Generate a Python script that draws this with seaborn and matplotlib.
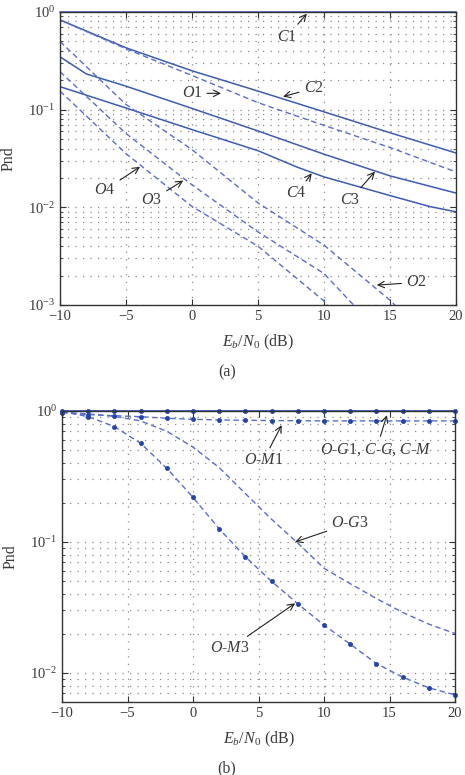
import numpy as np
import matplotlib
matplotlib.use("Agg")
import matplotlib.pyplot as plt
import seaborn as sns

# ---- panel (a) data ----
snr_a = [-10, -5, 0, 5, 10, 15, 20]
c1 = [1, 1, 1, 1, 1, 1, 1]
c2 = [0.83, 0.43, 0.25, 0.155, 0.095, 0.058, 0.036]
o1 = [0.83, 0.42, 0.224, 0.118, 0.069, 0.041, 0.023]
snr_c3 = [-10, -8, -5, 0, 5, 10, 15, 20]
c3 = [0.348, 0.232, 0.174, 0.103, 0.0605, 0.035, 0.021, 0.014]
snr_c4 = [-10, -5, 0, 5, 8, 10, 15, 18, 20]
c4 = [0.172, 0.104, 0.0625, 0.038, 0.0257, 0.0205, 0.0132, 0.0102, 0.009]
snr_o2 = [-10, -5, 0, 5, 10, 15, 17]
o2 = [0.5, 0.113, 0.039, 0.0111, 0.0041, 0.00112, 0.0006]
snr_o34 = [-10, -5, 0, 5, 10, 15]
o3 = [0.245, 0.057, 0.017, 0.0056, 0.0021, 0.0004]
o4 = [0.155, 0.0355, 0.0102, 0.004, 0.0011, 0.00015]

# ---- panel (b) data ----
snr_b = [-10, -8, -6, -4, -2, 0, 2, 4, 6, 8, 10, 12, 14, 16, 18, 20]
top_b = [1.0] * 16  # O-G1, C-G, C-M
om1 = [0.97, 0.94, 0.92, 0.905, 0.88, 0.864, 0.854, 0.85, 0.845, 0.843,
       0.84, 0.84, 0.84, 0.84, 0.84, 0.84]
og3 = [0.98, 0.95, 0.91, 0.84, 0.70, 0.53, 0.37, 0.234, 0.149, 0.098,
       0.063, 0.048, 0.037, 0.029, 0.0236, 0.020]
om3 = [0.99, 0.905, 0.76, 0.567, 0.365, 0.219, 0.126, 0.077, 0.050, 0.0337,
       0.0232, 0.0166, 0.0118, 0.0093, 0.0077, 0.0068]

sns.set_style("ticks", {"xtick.direction": "in", "ytick.direction": "in"})
plt.rcParams["font.family"] = ["Liberation Serif", "DejaVu Serif"]
plt.rcParams["mathtext.fontset"] = "custom"
plt.rcParams["mathtext.rm"] = "Liberation Serif"
plt.rcParams["mathtext.it"] = "Liberation Serif:italic"
plt.rcParams["mathtext.bf"] = "Liberation Serif:bold"
plt.rcParams["font.size"] = 10.5

SOLID = "#3d5cb2"
DASH = "#5a6cd0"
MARK = "#2544a8"
TXT = "#3a3a3a"
dash = (0, (4, 2.5))
dots = (0, (1, 5))

fig = plt.figure(figsize=(4.65, 7.75), dpi=100)
ax_a = fig.add_axes([60 / 465, 1 - 305 / 775, 396 / 465, 293 / 775])
ax_b = fig.add_axes([62 / 465, 1 - 702 / 775, 393 / 465, 291 / 775])


def style_axes(ax, ylim):
    ax.set_yscale("log")
    ax.set_xlim(-10, 20)
    ax.set_ylim(*ylim)
    ax.set_xticks(range(-10, 21, 5))
    ax.grid(True, which="major", axis="both", color="#8a8a8a",
            linestyle=dots, linewidth=0.9)
    ax.grid(True, which="minor", axis="y", color="#8a8a8a",
            linestyle=dots, linewidth=0.9)
    ax.tick_params(which="both", direction="in", top=True, right=True,
                   colors="#333333", labelcolor=TXT, labelsize=10.5)
    ax.tick_params(which="major", length=4, width=0.8)
    ax.tick_params(which="minor", length=2, width=0.6)
    for s in ax.spines.values():
        s.set_color("#333333")
        s.set_linewidth(1.0)
    ax.set_xlabel(r"$E_b/N_0$ (dB)", color=TXT, labelpad=7, fontsize=11.5)
    ax.set_ylabel("Pnd", color=TXT, fontsize=11.5)
    ax.yaxis.set_label_coords(-0.11, 0.5)


def note(ax, label, xy, xytext):
    ax.annotate(label, xy=xy, xytext=xytext, ha="center", va="center",
                color=TXT, fontsize=11.5,
                arrowprops=dict(arrowstyle="->", color="#222222", lw=0.8,
                                shrinkA=1, shrinkB=0))


# ---- (a) ----
style_axes(ax_a, (1e-3, 1))
sns.lineplot(x=snr_a, y=c1, ax=ax_a, color=SOLID, lw=1.1, clip_on=False)
sns.lineplot(x=snr_a, y=c2, ax=ax_a, color=SOLID, lw=1.1)
sns.lineplot(x=snr_c3, y=c3, ax=ax_a, color=SOLID, lw=1.1)
sns.lineplot(x=snr_c4, y=c4, ax=ax_a, color=SOLID, lw=1.1)
sns.lineplot(x=snr_a, y=o1, ax=ax_a, color=DASH, lw=1.0, linestyle=dash)
sns.lineplot(x=snr_o2, y=o2, ax=ax_a, color=DASH, lw=1.0, linestyle=dash)
sns.lineplot(x=snr_o34, y=o3, ax=ax_a, color=DASH, lw=1.0, linestyle=dash)
sns.lineplot(x=snr_o34, y=o4, ax=ax_a, color=DASH, lw=1.0, linestyle=dash)

note(ax_a, r"$C$1", (8.7, 0.96), (7.2, 0.56))
note(ax_a, r"$C$2", (6.9, 0.136), (9.2, 0.166))
note(ax_a, r"$O$1", (2.2, 0.147), (0.0, 0.147))
note(ax_a, r"$O$4", (-3.94, 0.026), (-6.6, 0.015))
note(ax_a, r"$O$3", (-0.66, 0.0188), (-3.05, 0.0119))
note(ax_a, r"$C$4", (9.07, 0.0223), (7.93, 0.0139))
note(ax_a, r"$C$3", (13.86, 0.0232), (11.97, 0.0119))
note(ax_a, r"$O$2", (14.0, 0.0016), (17.0, 0.0017))

# ---- (b) ----
style_axes(ax_b, (0.006, 1))
mk = dict(marker="o", markersize=3, markerfacecolor=MARK,
          markeredgecolor=MARK, markeredgewidth=0.5)
sns.lineplot(x=snr_b, y=og3, ax=ax_b, color=DASH, lw=1.0, linestyle=dash)
sns.lineplot(x=snr_b, y=om1, ax=ax_b, color=DASH, lw=1.0, linestyle=dash,
             clip_on=False, **mk)
sns.lineplot(x=snr_b, y=om3, ax=ax_b, color=DASH, lw=1.0, linestyle=dash,
             clip_on=False, **mk)
sns.lineplot(x=snr_b, y=top_b, ax=ax_b, color=SOLID, lw=1.3,
             clip_on=False, **mk)

note(ax_b, r"$O$-$M$1", (6.77, 0.78), (5.37, 0.42))
note(ax_b, r"$O$-$G$1, $C$-$G$, $C$-$M$", (14.8, 0.93), (14.0, 0.51))
note(ax_b, r"$O$-$G$3", (7.79, 0.1), (12.0, 0.139))
note(ax_b, r"$O$-$M$3", (7.79, 0.034), (2.82, 0.0154))

fig.text(227 / 465, 1 - 372 / 775, "(a)", ha="center", va="center",
         color=TXT, fontsize=11.5)
fig.text(227 / 465, 1 - 768 / 775, "(b)", ha="center", va="center",
         color=TXT, fontsize=11.5)

fig.savefig("out.png", dpi=100)
